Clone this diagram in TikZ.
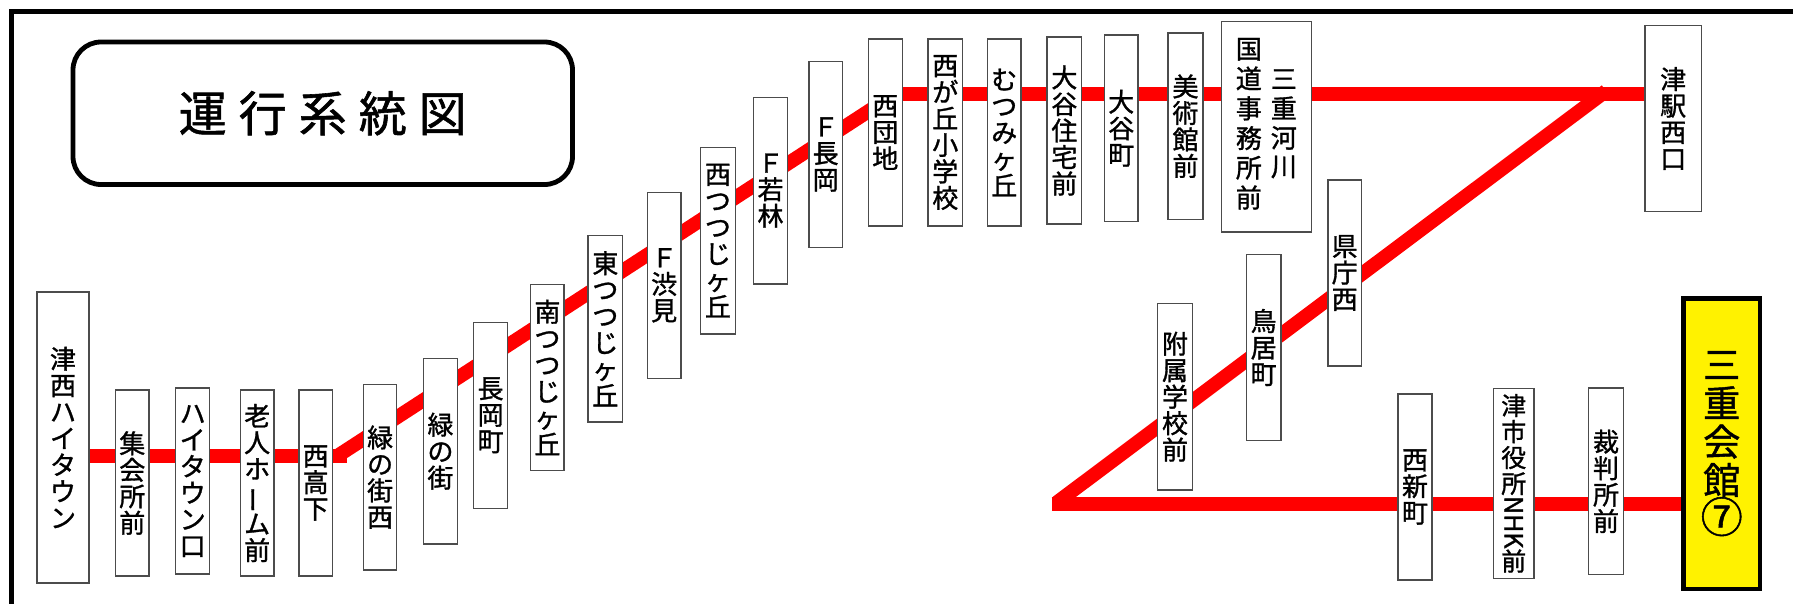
\documentclass[tikz,border=0pt]{standalone}
\usepackage{fontspec}
\setmainfont{Noto Sans CJK JP}[FakeBold=1.2]
\usetikzlibrary{backgrounds}
\tikzset{
  stn/.style={draw=black!70, line width=1.2pt, fill=white, inner sep=0pt, align=center,
    font=\fontsize{26pt}{26.5pt}\selectfont},
  bigstn/.style={draw=black, line width=4.5pt, fill=yellow, inner sep=0pt, align=center,
    font=\fontsize{37pt}{38.5pt}\selectfont},
  titlebox/.style={draw=black, line width=4.8pt, rounded corners=28pt, inner sep=0pt,
    font=\fontsize{48pt}{50pt}\selectfont},
  track/.style={draw=red, line width=14pt, line cap=butt},
  framebar/.style={draw=black, line width=5pt, line join=miter},
}
\newcommand\vbar{\rotatebox[origin=c]{90}{ー}}
\newcommand\nhk{\rotatebox[origin=c]{-90}{NHK}}
\newcommand\vcol[1]{\begin{tabular}[c]{@{}c@{}}#1\end{tabular}}
\newcommand\Stn[7][stn]{%
  \pgfmathsetmacro\stnW{#5-#3}\pgfmathsetmacro\stnH{#6-#4}%
  \pgfmathsetmacro\stnX{(#3+#5)/2}\pgfmathsetmacro\stnY{(#4+#6)/2}%
  \node[#1, minimum width=\stnW pt, minimum height=\stnH pt] (#2) at (\stnX,\stnY) {#7};}
\begin{document}
\begin{tikzpicture}[x=1pt,y=-1pt]
\useasboundingbox (0,0) rectangle (1793,603);
\clip (0,0) rectangle (1793,603);
% outer frame (only top and left edges inside the picture)
\draw[framebar] (11,640) -- (11,11) -- (1830,11);
% title
\node[titlebox, minimum width=499.5pt, minimum height=142.5pt] (title) at (322.75,113.25)
  {運\hspace{12pt}行\hspace{12pt}系\hspace{12pt}統\hspace{12pt}図};
% stations
\Stn{s1}{37}{292}{89}{583}{津\\西\\ハ\\イ\\タ\\ウ\\ン}
\Stn{s2}{115.6}{390}{149}{576}{集\\会\\所\\前}
\Stn{s3}{175.7}{388}{209.7}{574}{ハ\\イ\\タ\\ウ\\ン\\口}
\Stn{s4}{240.3}{390}{274}{576}{老\\人\\ホ\\\vbar\\ム\\前}
\Stn{s5}{299}{390}{332.3}{576}{西\\高\\下}
\Stn{s6}{363.5}{384.3}{396.8}{570}{緑\\の\\街\\西}
\Stn{s7}{423.7}{358.3}{457.3}{544}{緑\\の\\街}
\Stn{s8}{473.4}{322.3}{507.8}{508.3}{長\\岡\\町}
\Stn{s9}{530.8}{284.3}{564}{470.7}{南\\つ\\つ\\じ\\ヶ\\丘}
\Stn{s10}{588}{235.7}{622.7}{422}{東\\つ\\つ\\じ\\ヶ\\丘}
\Stn{s11}{647.3}{192.3}{681}{378.3}{Ｆ\\渋\\見}
\Stn{s12}{700.5}{147.3}{735.3}{334}{西\\つ\\つ\\じ\\ヶ\\丘}
\Stn{s13}{753.8}{97.3}{787.3}{284}{Ｆ\\若\\林}
\Stn{s14}{809}{61.3}{842.3}{247.7}{Ｆ\\長\\岡}
\Stn{s15}{868.3}{39}{902.3}{226}{西\\団\\地}
\Stn{s16}{928}{39}{962.6}{226}{西\\が\\丘\\小\\学\\校}
\Stn{s17}{987.5}{39}{1021}{226}{む\\つ\\み\\ヶ\\丘}
\Stn{s18}{1047}{37}{1081.7}{224}{大\\谷\\住\\宅\\前}
\Stn{s19}{1104.5}{35}{1138}{221.5}{大\\谷\\町}
\Stn{s20}{1168}{33}{1203}{219.3}{美\\術\\館\\前}
\Stn{s21}{1221.5}{21.3}{1311.2}{232}{\vcol{国\\道\\事\\務\\所\\前}\hspace{9pt}\vcol{三\\重\\河\\川}}
\Stn{s22}{1645}{25.3}{1701.4}{211.7}{津\\駅\\西\\口}
\Stn{s23}{1328}{180}{1361.4}{366}{県\\庁\\西}
\Stn{s24}{1246.3}{254.3}{1281}{440.7}{鳥\\居\\町}
\Stn{s25}{1157.3}{303.3}{1192.7}{490}{附\\属\\学\\校\\前}
\Stn{s26}{1398}{394}{1432}{580}{西\\新\\町}
\Stn[stn,font=\fontsize{25pt}{26pt}\selectfont]{s27}{1493.5}{388.3}{1534}{578.3}{津\\市\\役\\所\\\nhk\\前}
\Stn{s28}{1588.8}{388}{1623.2}{574.7}{裁\\判\\所\\前}
\Stn[bigstn]{s29}{1683.5}{298.3}{1760}{589}{三\\重\\会\\館\\{\fontsize{42pt}{42pt}\selectfont ⑦}}
% route
\coordinate (a1) at (337,456.2);
\coordinate (a1e) at (346.7,456.2);
\coordinate (a2) at (895,94);
\coordinate (j) at (1606,91);
\coordinate (c1) at (1057,502.4);
\coordinate (c0) at (1051.7,503.8);
\begin{pgfonlayer}{background}
\draw[track] (s1.center |- a1) -- (a1e);
\draw[track] (a1) -- (a2);
\draw[track] (a2) -- (s22.center |- a2);
\draw[track] (j) -- (c1);
\draw[track] (c0) -- (s29.center |- c0);
\end{pgfonlayer}
\end{tikzpicture}
\end{document}
